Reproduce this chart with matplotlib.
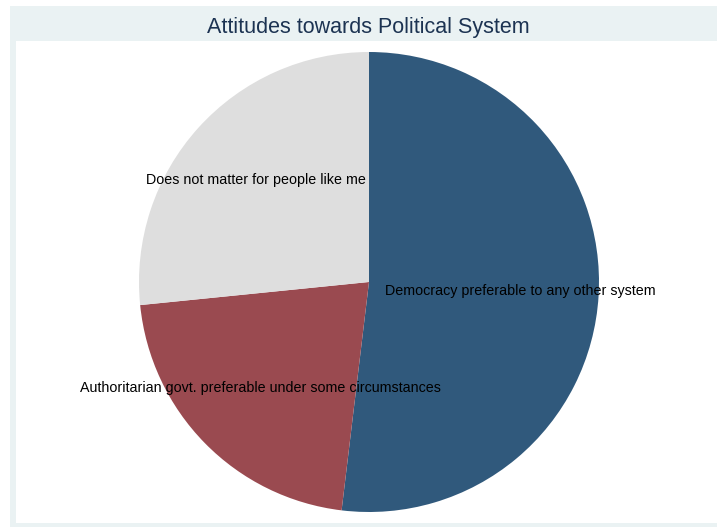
import numpy as np
import matplotlib
matplotlib.use("Agg")
from matplotlib import pyplot as plt
from matplotlib.patches import Rectangle

categories = [
    "Democracy preferable to any other system",
    "Authoritarian govt. preferable under some circumstances",
    "Does not matter for people like me",
]
shares = [51.9, 21.5, 26.6]
colors = ["#30597C", "#9A4A50", "#DEDEDE"]
title = "Attitudes towards Political System"

W, H = 717, 527
fig = plt.figure(figsize=(W / 100, H / 100), dpi=100, facecolor="white")

# fond gris-bleu du cadre, zone blanche du graphe
fig.patches.append(Rectangle((10 / W, 0), 1, 1 - 6 / H, transform=fig.transFigure,
                             facecolor="#EAF2F3", edgecolor="none", zorder=-10))
fig.patches.append(Rectangle((16 / W, 4 / H), 1, 1 - 41 / H - 4 / H, transform=fig.transFigure,
                             facecolor="white", edgecolor="none", zorder=-9))

fig.text(368 / W, 1 - 27 / H, title, ha="center", va="center", fontsize=15.5,
         color="#1C3352", family=["Liberation Sans Narrow", "Liberation Sans", "DejaVu Sans"])

cx, cy, r = 369, 282, 230
ax = fig.add_axes([(cx - r) / W, (H - cy - r) / H, 2 * r / W, 2 * r / H])
ax.patch.set_alpha(0)
wedges, _ = ax.pie(shares, colors=colors, startangle=90, counterclock=False,
                   wedgeprops=dict(linewidth=0))
ax.set_xlim(-1, 1)
ax.set_ylim(-1, 1)
ax.set_aspect("auto")
ax.axis("off")

for w, lab in zip(wedges, categories):
    mid = np.deg2rad((w.theta1 + w.theta2) / 2)
    ax.text(0.66 * np.cos(mid), 0.66 * np.sin(mid), lab, ha="center", va="center",
            fontsize=10.3, color="black", family=["Liberation Sans", "DejaVu Sans"])

fig.savefig("out.png", dpi=100, facecolor="white")
